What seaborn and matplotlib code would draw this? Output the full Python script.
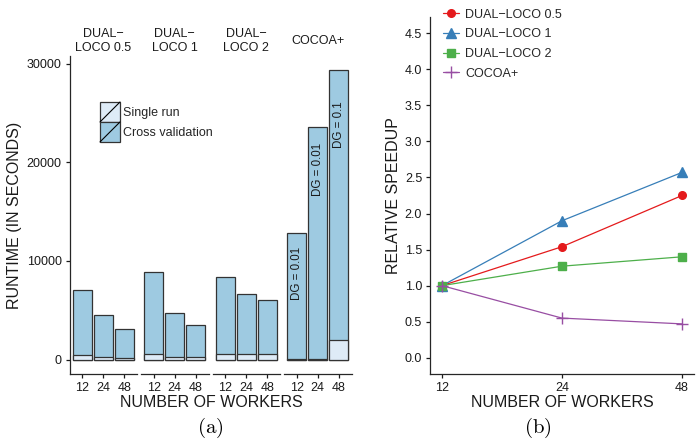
import numpy as np
import pandas as pd
import matplotlib
matplotlib.use('Agg')
import matplotlib.pyplot as plt
import seaborn as sns
from matplotlib.legend_handler import HandlerBase
from matplotlib.patches import Rectangle, Patch
from matplotlib.lines import Line2D

# data
workers = [12, 24, 48]
methods = ['DUAL\u2212LOCO 0.5', 'DUAL\u2212LOCO 1', 'DUAL\u2212LOCO 2', 'COCOA+']
strip_labels = ['DUAL\u2212\nLOCO 0.5', 'DUAL\u2212\nLOCO 1', 'DUAL\u2212\nLOCO 2', 'COCOA+']

cv_loco05 = [7090, 4530, 3140]
cv_loco1 = [8920, 4700, 3550]
cv_loco2 = [8340, 6650, 6080]
cv_cocoa = [12870, 23530, 29310]

single_loco05 = [500, 230, 170]
single_loco1 = [540, 300, 270]
single_loco2 = [570, 540, 540]
single_cocoa = [30, 60, 1960]

dg_labels = ['DG = 0.01', 'DG = 0.01', 'DG = 0.1']
dg_label_y = [8700, 19250, 23800]

speedup_loco05 = [1.0, 1.54, 2.25]
speedup_loco1 = [1.0, 1.90, 2.57]
speedup_loco2 = [1.0, 1.27, 1.40]
speedup_cocoa = [1.0, 0.55, 0.47]

cv_all = [cv_loco05, cv_loco1, cv_loco2, cv_cocoa]
single_all = [single_loco05, single_loco1, single_loco2, single_cocoa]
speed_all = [speedup_loco05, speedup_loco1, speedup_loco2, speedup_cocoa]

sns.set_style('ticks')
plt.rcParams['font.family'] = ['Liberation Sans', 'DejaVu Sans']
plt.rcParams['mathtext.fontset'] = 'cm'
plt.rcParams['axes.linewidth'] = 0.9
plt.rcParams['xtick.major.size'] = 3.2
plt.rcParams['ytick.major.size'] = 3.2
plt.rcParams['xtick.major.width'] = 0.9
plt.rcParams['ytick.major.width'] = 0.9
plt.rcParams['xtick.major.pad'] = 2.5
plt.rcParams['ytick.major.pad'] = 2.5

W, H = 699, 442
fig = plt.figure(figsize=(W / 100, H / 100), dpi=100)

cv_color = '#9ECAE1'
single_color = '#DEEBF7'
edge = '#333333'
txt = '#1a1a1a'

# ---- (a) runtime facets ----
panel_w = 67.5
panel_left = 69.5
panel_gap = 4.0
top_px, bot_px = 56, 374
ymax = max(max(c) for c in cv_all)
ylim = (-0.05 * ymax, ymax * 1.05)

axes_a = []
for i, (name, cv, single) in enumerate(zip(strip_labels, cv_all, single_all)):
    left = panel_left + i * (panel_w + panel_gap)
    ax = fig.add_axes([left / W, 1 - bot_px / H, panel_w / W, (bot_px - top_px) / H])
    df = pd.DataFrame({'workers': workers, 'cv': cv, 'single': single})
    sns.barplot(data=df, x='workers', y='cv', color=cv_color, saturation=1,
                width=0.9, edgecolor=edge, linewidth=0.9, errorbar=None, ax=ax)
    sns.barplot(data=df, x='workers', y='single', color=single_color, saturation=1,
                width=0.9, edgecolor=edge, linewidth=0.9, errorbar=None, ax=ax)
    ax.set_xlim(-0.6, 2.6)
    ax.set_ylim(*ylim)
    ax.set_xlabel('')
    ax.set_ylabel('')
    ax.tick_params(axis='x', labelsize=9, colors=txt)
    ax.spines['top'].set_visible(False)
    ax.spines['right'].set_visible(False)
    if i == 0:
        ax.set_yticks([0, 10000, 20000, 30000])
        ax.tick_params(axis='y', labelsize=9, colors=txt)
    else:
        ax.spines['left'].set_visible(False)
        ax.set_yticks([])
    ax.text(0.5, 1 + 15 / (bot_px - top_px), name, transform=ax.transAxes,
            ha='center', va='center', fontsize=9, linespacing=1.15, color=txt)
    axes_a.append(ax)

# DG annotations inside the COCOA+ bars
for k, (lab, yy) in enumerate(zip(dg_labels, dg_label_y)):
    axes_a[3].text(k, yy, lab, rotation=90, ha='center', va='center',
                   fontsize=8.3, color=txt)

fig.text(15 / W, 1 - 215 / H, 'RUNTIME (IN SECONDS)', rotation=90,
         ha='center', va='center', fontsize=11.5, color=txt)
fig.text(211 / W, 1 - 402.5 / H, 'NUMBER OF WORKERS', ha='center', va='center',
         fontsize=11.5, color=txt)
fig.text(210 / W, 1 - 428 / H, r'$\mathrm{(a)}$', ha='center', va='center',
         fontsize=15, color='black')


class DiagHandler(HandlerBase):
    def create_artists(self, legend, orig_handle, xdescent, ydescent,
                       width, height, fontsize, trans):
        r = Rectangle((-xdescent, -ydescent), width, height,
                      facecolor=orig_handle.get_facecolor(), edgecolor=edge,
                      linewidth=0.9, transform=trans)
        l = Line2D([-xdescent, -xdescent + width], [-ydescent, -ydescent + height],
                   color='black', linewidth=0.8, transform=trans)
        return [r, l]


leg_handles = [Patch(facecolor=single_color), Patch(facecolor=cv_color)]
fig.legend(leg_handles, ['Single run', 'Cross validation'],
           handler_map={Patch: DiagHandler()},
           loc='upper left', bbox_to_anchor=(100 / W, 1 - 102 / H),
           frameon=False, borderpad=0, borderaxespad=0, fontsize=9,
           handlelength=1.6, handleheight=2.08, labelspacing=0,
           handletextpad=0.25)

# ---- (b) relative speedup ----
rt_top = 17
axb = fig.add_axes([430 / W, 1 - bot_px / H, 264 / W, (bot_px - rt_top) / H])
colors = ['#E41A1C', '#377EB8', '#4DAF4A', '#984EA3']
markers = ['o', '^', 's', '+']
msizes = [5.5, 6.5, 6.2, 9]
for name, vals, c, m, ms in zip(methods, speed_all, colors, markers, msizes):
    sns.lineplot(x=workers, y=vals, color=c, marker=m, markersize=ms,
                 markeredgecolor=c, markeredgewidth=1.0, linewidth=0.9,
                 label=name, ax=axb)
axb.set_xscale('log', base=2)
axb.set_xlim(workers[0] / 2 ** 0.1, workers[-1] * 2 ** 0.1)
axb.set_xticks(workers)
axb.set_xticklabels([str(w) for w in workers])
axb.minorticks_off()
axb.set_ylim(-0.225, 4.725)
axb.set_yticks(np.arange(0, 4.51, 0.5))
axb.set_yticklabels(['%.1f' % v for v in np.arange(0, 4.51, 0.5)])
axb.tick_params(labelsize=9, colors=txt)
axb.set_xlabel('')
axb.set_ylabel('')
axb.spines['top'].set_visible(False)
axb.spines['right'].set_visible(False)
h, l = axb.get_legend_handles_labels()
axb.get_legend().remove()
fig.legend(h, l, loc='upper left', bbox_to_anchor=(443 / W, 1 - 8.5 / H),
           frameon=False, borderpad=0, borderaxespad=0, fontsize=9,
           handlelength=1.25, handletextpad=0.5, labelspacing=0.62)

fig.text(393 / W, 1 - 195.5 / H, 'RELATIVE SPEEDUP', rotation=90,
         ha='center', va='center', fontsize=11.5, color=txt)
fig.text(562 / W, 1 - 402.5 / H, 'NUMBER OF WORKERS', ha='center', va='center',
         fontsize=11.5, color=txt)
fig.text(538 / W, 1 - 428 / H, r'$\mathrm{(b)}$', ha='center', va='center',
         fontsize=15, color='black')

fig.savefig('out.png', dpi=100)
